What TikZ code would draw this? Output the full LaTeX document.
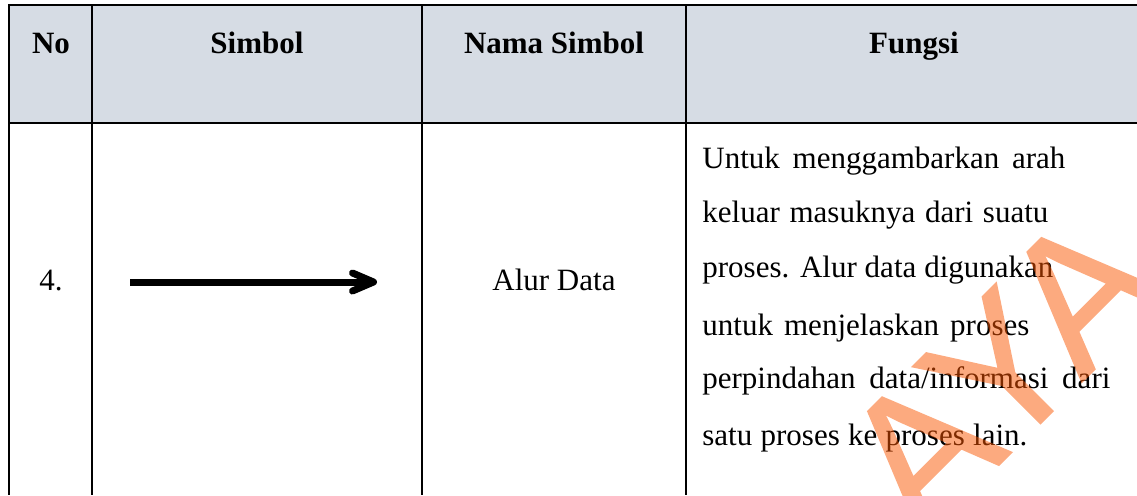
\documentclass[tikz,border=0pt]{standalone}
\usepackage{fontspec}
\setmainfont{Liberation Serif}
\newfontfamily\wmfont[FakeBold=0.8]{Liberation Sans}
\usetikzlibrary{arrows.meta, calc}
\definecolor{headgray}{RGB}{214,220,228}
\definecolor{wmorange}{RGB}{250,85,0}

\tikzset{
  grid line/.style={line width=1.4pt},
  head/.style={anchor=base, font=\bfseries\fontsize{15.5}{18}\selectfont},
  cell/.style={anchor=base, font=\fontsize{15.5}{18}\selectfont},
  fline/.style={anchor=base west, inner sep=0pt, font=\fontsize{15.5}{18}\selectfont},
  flow/.style={line width=3.5pt, -{Straight Barb[length=10.5pt,width=9pt,round]}},
}
\newcommand{\jline}[2]{\makebox[#1][s]{#2}}

\begin{document}
\begin{tikzpicture}[x=0.5pt, y=-0.5pt]
    \useasboundingbox (0,0) rectangle (1137,495);
    \clip (0,0) rectangle (1137,495);

    % header row
    \fill[headgray] (9,5) rectangle (1137,123);
    \draw[grid line] (1137,5) -- (9,5) -- (9,495);
    \draw[grid line] (9,123) -- (1137,123);
    \foreach \cx in {92,422,686}
        \draw[grid line] (\cx,5) -- (\cx,495);

    \node[head] (hNo) at (51,53) {No};
    \node[head] (hSimbol) at (257,53) {Simbol};
    \node[head] (hNama) at (554,53) {Nama Simbol};
    \node[head] (hFungsi) at (914,53) {Fungsi};

    % row 4
    \node[cell] (no4) at (51,290) {4.};
    \coordinate (arrStart) at (130,282);
    \coordinate (arrEnd) at (377,282);
    \draw[flow] (arrStart) -- (arrEnd);
    \node[cell] (alur) at (554,290) {Alur Data};

    \node[fline] (f1) at (702,168) {\jline{181.5pt}{Untuk menggambarkan arah}};
    \node[fline] (f2) at (702,222) {\jline{173pt}{keluar masuknya dari suatu}};
    \node[fline] (f3) at (702,277) {\jline{175.5pt}{proses. Alur data digunakan}};
    \node[fline] (f4) at (702,335) {\jline{163.5pt}{untuk menjelaskan proses}};
    \node[fline] (f5) at (702,388) {\jline{204pt}{perpindahan data/informasi dari}};
    \node[fline] (f6) at (702,445) {\jline{162.5pt}{satu proses ke proses lain.}};

    % watermark
    \begin{scope}[transparency group, opacity=0.5]
        \node[rotate=45, anchor=base west, inner sep=0pt, text=wmorange,
              font=\wmfont\fontsize{95}{95}\selectfont] (wm) at (922,542) {AYA};
    \end{scope}
\end{tikzpicture}
\end{document}
